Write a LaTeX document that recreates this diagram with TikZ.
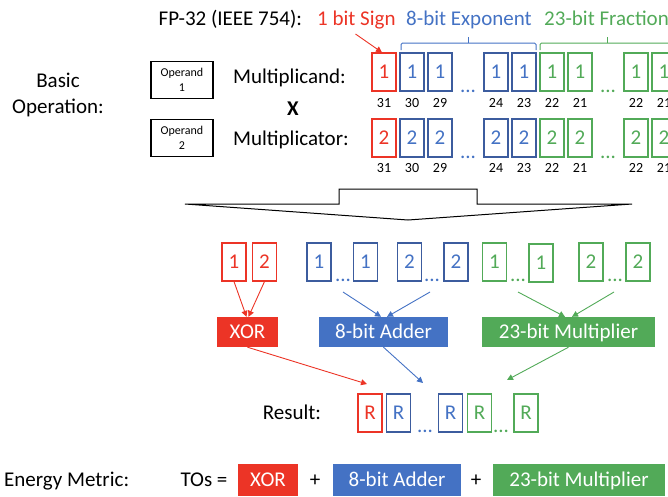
\documentclass[tikz,border=0pt]{standalone}
\usepackage{fontspec}
\setmainfont{Carlito}
\usetikzlibrary{arrows.meta}

\definecolor{sred}{RGB}{236,52,38}
\definecolor{eblue}{RGB}{68,114,196}
\definecolor{ebline}{RGB}{60,92,158}
\definecolor{fgreen}{RGB}{82,170,88}

\tikzset{
  big/.style={font=\fontsize{21}{25}\selectfont},
  lbl/.style={big, inner sep=0pt, text height=13.5pt, text depth=0pt},
  num/.style={inner sep=0pt, font=\fontsize{14}{16}\selectfont, text height=9pt, text depth=0pt},
  bit/.style={lbl, draw, line width=1.1pt, minimum width=24pt, minimum height=38pt, fill=white},
  redbit/.style={bit, draw=sred, text=sred},
  bluebit/.style={bit, draw=ebline, text=eblue},
  greenbit/.style={bit, draw=fgreen, text=fgreen},
  dots/.style={big, inner sep=0pt, anchor=base},
  unit/.style={lbl, minimum height=30pt, text=white},
  opbox/.style={draw, line width=1.2pt, minimum width=62pt, minimum height=37pt,
    align=center, inner sep=0pt, font=\fontsize{12}{15}\selectfont},
  arr/.style={-{Triangle[length=6pt,width=6pt]}, line width=0.9pt},
  brace/.style={line width=1pt, rounded corners=1.5pt},
}

\begin{document}
\begin{tikzpicture}[x=1pt, y=-1pt]
\useasboundingbox (0,0) rectangle (668,496);

% ---- header ----
\node[lbl, anchor=west] (fp)   at (158.5,18.5) {FP-32 (IEEE 754):};
\node[lbl, anchor=west, text=sred]   (sgn) at (317,18.5) {1 bit Sign};
\node[lbl, anchor=west, text=eblue]  (exp) at (406,18.5) {8-bit Exponent};
\node[lbl, anchor=west, text=fgreen] (frc) at (544,18.5) {23-bit Fraction};

% ---- operands ----
\node[lbl] (basic) at (58,81) {Basic};
\node[lbl] (oper)  at (58,107) {Operation:};
\node[opbox] (op1) at (182,80)  {Operand\\1};
\node[opbox] (op2) at (182,138) {Operand\\2};
\node[lbl, anchor=west] (mcand) at (233,77)  {Multiplicand:};
\node[lbl, anchor=west] (mcator) at (233,139) {Multiplicator:};
\node[lbl, font=\fontsize{21}{25}\selectfont\bfseries] (times) at (293,109) {X};

% ---- bit fields of both operands ----
\foreach \i/\s/\n in {0/redbit/31,1/bluebit/30,2/bluebit/29,4/bluebit/24,5/bluebit/23,
                      6/greenbit/22,7/greenbit/21,9/greenbit/22,10/greenbit/21} {
  \node[\s] (a\i) at ({384+28*\i},72) {1};
  \node[num] (na\i) at ({384+28*\i},102.5) {\n};
  \node[\s] (b\i) at ({384+28*\i},138) {2};
  \node[num] (nb\i) at ({384+28*\i},168) {\n};
}
\node[dots, text=eblue]  (da1) at (468,92)  {...};
\node[dots, text=fgreen] (da2) at (608,92)  {...};
\node[dots, text=eblue]  (db1) at (468,158) {...};
\node[dots, text=fgreen] (db2) at (608,158) {...};

% field braces
\draw[brace, eblue] (401,50) -- (401,43) -- (536,43) -- (536,50);
\draw[line width=1pt, eblue] (468,43) -- (468,37);
\draw[brace, fgreen] (540,50) -- (540,43) -- (680,43);
\draw[line width=1pt, fgreen] (607,43) -- (607,37);

% sign pointer
\coordinate (sgntail) at (355.5,34);
\draw[arr, sred] (sgntail) -- ([xshift=-2pt]a0.north);

% ---- split arrow ----
\draw[line width=1pt, fill=white] (185,204) -- (339,204) -- (339,189) -- (477,189)
  -- (477,204) -- (632,204) -- (408,220) -- cycle;

% ---- separated fields ----
\node[redbit]   (x1) at (234,262)   {1};
\node[redbit]   (x2) at (264.5,262) {2};
\node[bluebit]  (e1) at (319,262)   {1};
\node[bluebit]  (e2) at (365.5,262) {1};
\node[bluebit]  (e3) at (409.5,262) {2};
\node[bluebit]  (e4) at (456,262)   {2};
\node[greenbit] (f1) at (494.5,262) {1};
\node[greenbit] (f2) at (541,263)   {1};
\node[greenbit] (f3) at (591,262)   {2};
\node[greenbit] (f4) at (638,262)   {2};
\node[dots, text=eblue]  (de1) at (343,281) {...};
\node[dots, text=eblue]  (de2) at (432,281) {...};
\node[dots, text=fgreen] (df1) at (518,281) {...};
\node[dots, text=fgreen] (df2) at (615,281) {...};

% ---- arithmetic units ----
\node[unit, fill=sred,   minimum width=61pt]  (xor) at (247.5,332) {XOR};
\node[unit, fill=eblue,  minimum width=129pt] (add) at (383.5,332) {8-bit Adder};
\node[unit, fill=fgreen, minimum width=173pt] (mul) at (568.5,332) {23-bit Multiplier};

\draw[arr, sred] (x1.south) -- ([xshift=-1pt]xor.north);
\draw[arr, sred] (x2.south) -- ([xshift=1pt]xor.north);
\coordinate (eb1) at (343,292);
\coordinate (eb2) at (430,292);
\coordinate (gb1) at (518,292);
\coordinate (gb2) at (614,292);
\draw[arr, eblue]  (eb1) -- ([xshift=-2.5pt]add.north);
\draw[arr, eblue]  (eb2) -- ([xshift=3.5pt]add.north);
\draw[arr, fgreen] (gb1) -- ([xshift=-3.5pt]mul.north);
\draw[arr, fgreen] (gb2) -- ([xshift=3.5pt]mul.north);

% ---- result ----
\coordinate (rin1) at (367,384);
\coordinate (rin2) at (423,383);
\coordinate (rin3) at (507,380);
\draw[arr, sred]   (xor.south) -- (rin1);
\draw[arr, eblue]  (add.south) -- (rin2);
\draw[arr, fgreen] (mul.south) -- (rin3);

\node[lbl] (res) at (292,413) {Result:};
\node[redbit]   (r1) at (370,413)   {R};
\node[bluebit]  (r2) at (398.5,413) {R};
\node[bluebit]  (r3) at (450.5,413) {R};
\node[greenbit] (r4) at (479.5,413) {R};
\node[greenbit] (r5) at (526,413)   {R};
\node[dots, text=eblue]  (dr1) at (425,432) {...};
\node[dots, text=fgreen] (dr2) at (501,432) {...};

% ---- energy metric ----
\node[lbl, anchor=west] (em) at (4,480) {Energy Metric:};
\node[lbl] (tos) at (204,480) {TOs =};
\node[unit, fill=sred,   minimum width=60pt,  minimum height=32pt] (exor) at (268,480) {XOR};
\node[lbl] (p1) at (315,480) {+};
\node[unit, fill=eblue,  minimum width=128pt, minimum height=32pt] (eadd) at (397,480) {8-bit Adder};
\node[lbl] (p2) at (476,480) {+};
\node[unit, fill=fgreen, minimum width=172pt, minimum height=32pt] (emul) at (579,480) {23-bit Multiplier};
\end{tikzpicture}
\end{document}
